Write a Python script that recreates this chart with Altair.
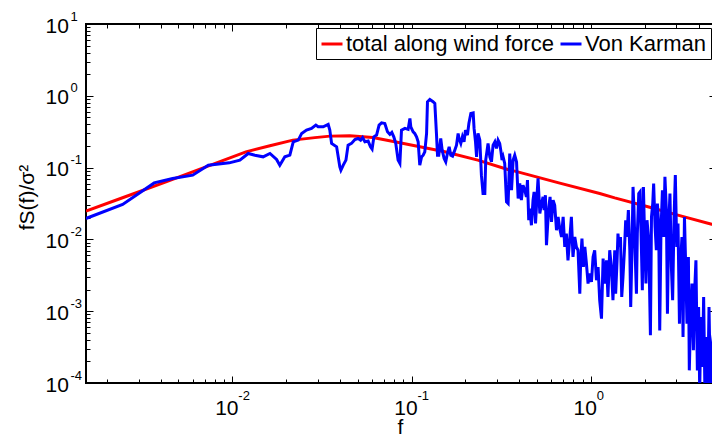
import altair as alt
import pandas as pd

# total along wind force: smooth spectrum fS(f)/sigma^2 against f
red_f = [0.001526, 0.002551, 0.004263, 0.007125, 0.01191, 0.01621, 0.02178, 0.02888,
         0.03502, 0.04528, 0.06084, 0.08607, 0.1113, 0.1534, 0.2343, 0.3444,
         0.3916, 0.6717, 1.1226, 1.361, 2.134, 3.135, 4.730, 5.0]
red_s = [0.0247, 0.03959, 0.06326, 0.1021, 0.1658, 0.2016, 0.2413, 0.2615,
         0.2744, 0.2770, 0.2631, 0.2213, 0.1946, 0.1658, 0.1270, 0.0942,
         0.0872, 0.0607, 0.0436, 0.0379, 0.0281, 0.0214, 0.01627, 0.01576]

# Von Karman: measured spectrum, read in decades (log10 f, log10 fS/sigma^2)
blue_log_f = [
    -2.817, -2.612, -2.436, -2.333, -2.221, -2.134, -2.017, -1.958,
    -1.911, -1.874, -1.828, -1.790, -1.753, -1.735, -1.707, -1.679,
    -1.660, -1.632, -1.613, -1.586, -1.558, -1.534, -1.521, -1.493,
    -1.465, -1.456, -1.446, -1.418, -1.400, -1.394, -1.381, -1.366,
    -1.354, -1.335, -1.316, -1.298, -1.284, -1.273, -1.260, -1.242,
    -1.229, -1.220, -1.210, -1.195, -1.181, -1.167, -1.149, -1.134,
    -1.121, -1.110, -1.099, -1.088, -1.075, -1.065, -1.056, -1.037,
    -1.019, -1.009, -1.004, -0.991, -0.982, -0.972, -0.963, -0.954,
    -0.944, -0.935, -0.926, -0.916, -0.911, -0.898, -0.880, -0.870,
    -0.861, -0.855, -0.848, -0.837, -0.829, -0.818, -0.809, -0.799,
    -0.790, -0.781, -0.771, -0.762, -0.749, -0.740, -0.735, -0.725,
    -0.716, -0.707, -0.699, -0.688, -0.680, -0.669, -0.656, -0.651,
    -0.643, -0.637, -0.629, -0.619, -0.610, -0.601, -0.591, -0.586,
    -0.573, -0.563, -0.554, -0.545, -0.535, -0.526, -0.517, -0.508,
    -0.502, -0.495, -0.489, -0.480, -0.470, -0.461, -0.452, -0.442,
    -0.433, -0.424,
    -0.414, -0.405, -0.396, -0.387, -0.378, -0.368, -0.359, -0.353, -0.346, -0.340,
    -0.331, -0.322, -0.316, -0.308, -0.299, -0.294, -0.284, -0.275, -0.266, -0.260,
    -0.253, -0.247, -0.241, -0.234, -0.227, -0.219, -0.210, -0.201, -0.191, -0.182,
    -0.173, -0.163, -0.154, -0.145, -0.136, -0.127, -0.117, -0.108, -0.099, -0.089,
    -0.080, -0.071, -0.061, -0.056, -0.049, -0.041, -0.033, -0.024, -0.015, -0.006,
    0.004, 0.013, 0.022, 0.032, 0.041, 0.050, 0.060, 0.069, 0.078, 0.088,
    0.096, 0.106, 0.115, 0.124, 0.134,
    0.139, 0.147, 0.152, 0.158, 0.166, 0.173, 0.180, 0.188, 0.195, 0.202,
    0.210, 0.218, 0.223, 0.230, 0.236, 0.241, 0.249, 0.255, 0.260, 0.268,
    0.275, 0.283, 0.288, 0.294, 0.301, 0.308, 0.314, 0.322, 0.327, 0.333,
    0.339, 0.346, 0.351, 0.359, 0.366, 0.372, 0.379, 0.385, 0.392, 0.400,
    0.407, 0.414, 0.422, 0.428, 0.435, 0.442, 0.450, 0.457, 0.465, 0.472,
    0.480, 0.487, 0.495, 0.502, 0.509, 0.515, 0.523, 0.530, 0.537, 0.545,
    0.550, 0.558, 0.565, 0.573, 0.580, 0.587, 0.595, 0.602, 0.608, 0.615,
    0.623, 0.630, 0.637, 0.645, 0.653, 0.660, 0.668, 0.675, 0.686, 0.697,
]
blue_log_s = [
    -1.709, -1.514, -1.213, -1.151, -1.105, -0.966, -0.934, -0.896,
    -0.803, -0.827, -0.850, -0.803, -0.887, -0.966, -0.850, -0.827,
    -0.641, -0.617, -0.524, -0.478, -0.454, -0.408, -0.432, -0.432,
    -0.398, -0.478, -0.663, -0.711, -0.990, -1.036, -0.966, -0.896,
    -0.687, -0.663, -0.608, -0.594, -0.617, -0.580, -0.641, -0.631,
    -0.711, -0.743, -0.571, -0.548, -0.408, -0.376, -0.385, -0.502,
    -0.538, -0.510, -0.571, -0.663, -0.896, -0.942, -0.478, -0.454,
    -0.468, -0.315, -0.432, -0.502, -0.524, -0.571, -0.641, -0.966,
    -0.850, -0.827, -0.781, -0.524, -0.083, -0.050, -0.083, -0.106,
    -0.524, -0.827, -0.827, -0.594, -0.757, -0.873, -0.920, -0.794,
    -0.711, -0.827, -0.840, -0.781, -0.687, -0.524, -0.594, -0.663,
    -0.571, -0.641, -0.478, -0.548, -0.385, -0.245, -0.237, -0.454,
    -0.641, -0.850, -0.524, -0.617, -1.105, -1.361, -1.361, -0.896,
    -0.663, -0.850, -0.920, -0.687, -0.641, -0.733, -0.617, -0.663,
    -0.757, -0.896, -0.850, -0.942, -1.478, -1.500, -0.803, -1.315,
    -0.896, -0.827,
    -0.920, -1.430, -1.221, -1.454, -1.245, -1.315, -1.408, -1.175, -1.733, -1.570,
    -1.803, -1.454, -1.338, -1.779, -1.361, -1.151, -1.639, -1.500, -1.408, -1.593,
    -1.384, -2.081, -1.826, -1.547, -1.408, -1.757, -1.454, -1.524, -1.872, -1.687,
    -1.849, -1.966, -1.687, -2.105, -1.918, -2.291, -1.988, -1.687, -2.245, -1.966,
    -2.105, -2.151, -2.755, -2.291, -1.988, -2.384, -2.105, -2.337, -2.615, -2.476,
    -2.593, -2.245, -2.151, -2.569, -2.384, -2.848, -3.104, -2.267, -2.615, -2.291,
    -2.802, -2.151, -2.384, -2.848, -2.151,
    -2.755, -2.291, -1.918, -2.105, -1.966, -2.802, -2.523, -2.151, -1.733, -1.966,
    -1.593, -2.151, -2.942, -2.151, -1.269, -1.547, -2.291, -2.755, -1.918, -1.361,
    -1.338, -2.151, -2.709, -1.269, -2.012, -2.615, -1.733, -1.966, -2.523, -3.336,
    -1.687, -1.500, -1.221, -1.826, -2.151, -1.500, -1.779, -3.267, -1.872, -1.315,
    -1.966, -1.129, -1.593, -3.034, -1.826, -1.361, -2.384, -2.848, -1.687, -1.105,
    -2.105, -1.779, -3.173, -2.291, -1.966, -3.360, -1.687, -2.384, -3.173, -2.245,
    -3.824, -2.988, -2.615, -3.545, -2.709, -2.291, -3.824, -2.942, -4.103, -3.081,
    -3.778, -2.802, -4.103, -3.360, -4.103, -2.942, -4.103, -3.545, -3.300, -4.100,
]
assert len(blue_log_f) == len(blue_log_s)

series_names = ["total along wind force", "Von Karman"]
series_colors = ["#ff0000", "#0000ff"]

red = pd.DataFrame({"f": red_f, "s": red_s, "series": series_names[0]})
blue = pd.DataFrame({
    "f": [10.0 ** v for v in blue_log_f],
    "s": [10.0 ** v for v in blue_log_s],
    "series": series_names[1],
})

W, H = 630, 359
FONT = "Liberation Sans"

x_domain = [0.001526, 5.0]
y_domain = [1e-4, 10.0]
x_major = [0.01, 0.1, 1.0]
y_major = [1e-4, 1e-3, 1e-2, 1e-1, 1.0, 10.0]
x_ticks = [m * 10.0 ** e for e in (-3, -2, -1, 0) for m in range(1, 10)
           if 0.0016 < m * 10.0 ** e < 4.9]
y_ticks = [m * 10.0 ** e for e in (-4, -3, -2, -1, 0) for m in range(1, 10)] + [10.0]

xs = alt.Scale(type="log", domain=x_domain, nice=False)
ys = alt.Scale(type="log", domain=y_domain, nice=False)

IS_MAJOR = "abs(log(datum.value)/LN10 - round(log(datum.value)/LN10)) < 1e-6"
tick_len = {"condition": {"test": IS_MAJOR, "value": 7}, "value": 4}
EXPONENT = "toString(round(log(datum.value)/LN10))"


def tick_axis(orient, offset, values):
    # inward-pointing tick marks along one edge of the box
    return alt.Axis(orient=orient, offset=offset, values=values, labels=False,
                    domain=False, grid=False, ticks=True, tickSize=tick_len,
                    tickColor="black", tickWidth=1, title=None)


def label_axis(orient, values, expr, size, align, padding, shift, **extra):
    return alt.Axis(orient=orient, values=values, labelExpr=expr, labelFont=FONT,
                    labelFontSize=size, labelColor="black", labelAlign=align,
                    labelBaseline="alphabetic", labelPadding=padding,
                    labelOffset=shift, labelFlush=False, labelOverlap=False,
                    ticks=False, tickSize=0, domain=False, grid=False, **extra)


x_base = label_axis("bottom", x_major, "'10'", 21, "center", 31, -6,
                    title="f", titleFont=FONT, titleFontSize=21,
                    titleFontWeight="normal", titleColor="black",
                    titleX=314, titleY=50, titleAlign="center",
                    titleBaseline="alphabetic")
x_exp = label_axis("bottom", x_major, EXPONENT, 13, "left", 16, 5.5, title=None)
y_base = label_axis("left", y_major, "'10'", 21, "left", 41, 8,
                    title="fS(f)/σ²", titleFont=FONT, titleFontSize=21,
                    titleFontWeight="normal", titleColor="black",
                    titleX=-53, titleY=173, titleAngle=270, titleAlign="center",
                    titleBaseline="alphabetic")
y_exp = label_axis("left", y_major, EXPONENT, 13, "left", 16, -4, title=None)

color = alt.Color(
    "series:N",
    scale=alt.Scale(domain=series_names, range=series_colors),
    legend=alt.Legend(
        title=None, orient="none", legendX=230, legendY=4, direction="horizontal",
        strokeColor="black", fillColor="white", padding=4, cornerRadius=0,
        symbolType="stroke", symbolSize=441, symbolStrokeWidth=3,
        labelFont=FONT, labelFontSize=22, labelColor="black", labelLimit=400,
        labelOffset=2, columnPadding=0,
    ),
)

red_line = alt.Chart(red).mark_line(strokeWidth=3, clip=True).encode(
    x=alt.X("f:Q", scale=xs, axis=x_base),
    y=alt.Y("s:Q", scale=ys, axis=y_base),
    color=color,
)
blue_line = alt.Chart(blue).mark_line(strokeWidth=3, clip=True).encode(
    x=alt.X("f:Q", scale=xs, axis=x_exp),
    y=alt.Y("s:Q", scale=ys, axis=y_exp),
    color=color,
)
# carriers for the inward tick marks on the bottom/left and top/right edges
ticks_bl = alt.Chart(red).mark_line(strokeOpacity=0, clip=True).encode(
    x=alt.X("f:Q", scale=xs, axis=tick_axis("top", -H, x_ticks)),
    y=alt.Y("s:Q", scale=ys, axis=tick_axis("right", -W, y_ticks)),
)
ticks_tr = alt.Chart(red).mark_line(strokeOpacity=0, clip=True).encode(
    x=alt.X("f:Q", scale=xs, axis=tick_axis("bottom", -H, x_ticks)),
    y=alt.Y("s:Q", scale=ys, axis=tick_axis("left", -W, y_ticks)),
)

chart = (
    alt.layer(ticks_bl, ticks_tr, red_line, blue_line)
    .resolve_axis(x="independent", y="independent")
    .properties(
        width=W, height=H, background="white",
        autosize=alt.AutoSizeParams(type="none"),
        padding={"left": 86, "top": 24, "right": -4, "bottom": 58},
    )
    .configure_view(stroke="black", strokeWidth=2)
)

chart.save("out.html", embed_options={"renderer": "svg", "actions": False})
